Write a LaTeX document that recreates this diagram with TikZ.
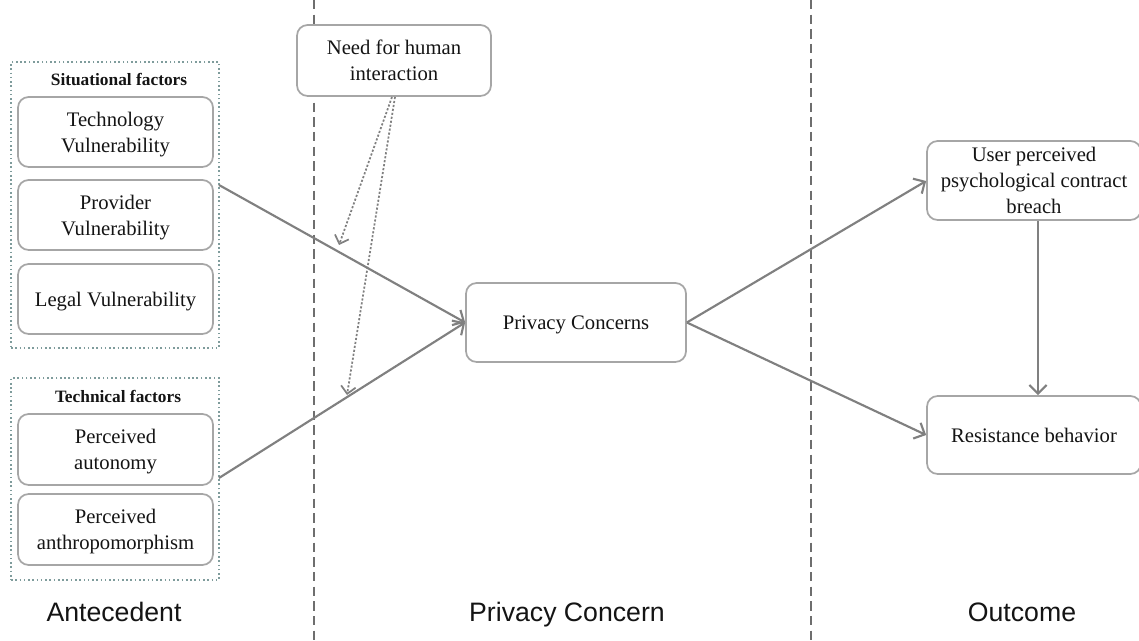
\documentclass[tikz,border=0pt]{standalone}
\usepackage{fontspec}
\setmainfont{Liberation Serif}
\newfontfamily\labelfont{Liberation Sans}
\usetikzlibrary{arrows.meta}
\definecolor{linegray}{HTML}{808080}
\definecolor{boxgray}{HTML}{A6A6A6}
\definecolor{dotgray}{HTML}{7F9C9C}
\definecolor{dashgray}{HTML}{6E6E6E}
\definecolor{txt}{HTML}{141414}
\tikzset{
  box/.style={draw=boxgray, line width=1.3pt, rounded corners=8pt, fill=white, align=center,
    text=txt, font=\fontsize{15.5}{19.5}\selectfont, inner sep=0pt, text depth=0pt},
  group/.style={draw=dotgray, line width=1.2pt, dotted, inner sep=0pt},
  grouptitle/.style={font=\fontsize{13}{15}\selectfont\bfseries, text=txt},
  link/.style={draw=linegray, line width=1.6pt, -{Straight Barb[length=6.5pt,width=13pt,line width=1.6pt]}},
  modlink/.style={draw=linegray, line width=1.3pt, dash pattern=on 1.6pt off 1.4pt, -{Straight Barb[length=5.5pt,width=11pt,line width=1.3pt]}},
  divider/.style={draw=dashgray, line width=1.1pt, dash pattern=on 7pt off 4pt},
  stage/.style={font=\labelfont\fontsize{20}{24}\selectfont, text=txt, anchor=base}
}
\begin{document}
\begin{tikzpicture}[x=0.75pt,y=-0.75pt]
\useasboundingbox (0,0) rectangle (1139,641);
\fill[white] (0,0) rectangle (1139,641);
% dividers
\draw[divider] (314,0) -- (314,641);
\draw[divider] (811,0) -- (811,641);
% groups
\node[group, minimum width=156pt, minimum height=214.5pt] (sit) at (115,205) {};
\node[group, minimum width=156pt, minimum height=151.5pt] (tec) at (115,479) {};
\node[grouptitle] (sitT) at (119,80) {Situational factors};
\node[grouptitle] (tecT) at (118,396) {Technical factors};
% boxes
\node[box, minimum width=146.25pt, minimum height=52.5pt] (tv) at (115.5,132) {Technology\\Vulnerability};
\node[box, minimum width=146.25pt, minimum height=52.5pt] (pv) at (115.5,215) {Provider\\Vulnerability};
\node[box, minimum width=146.25pt, minimum height=52.5pt] (lv) at (115.5,299) {Legal Vulnerability};
\node[box, minimum width=146.25pt, minimum height=53.25pt] (pa) at (115.5,449.5) {Perceived\\autonomy};
\node[box, minimum width=146.25pt, minimum height=53.25pt] (pan) at (115.5,529.5) {Perceived\\anthropomorphism};
\node[box, minimum width=145.5pt, minimum height=53.25pt] (need) at (394,60.5) {Need for human\\interaction};
\node[box, minimum width=165pt, minimum height=59.25pt] (pc) at (576,322.5) {Privacy Concerns};
\node[box, minimum width=160.5pt, minimum height=59.25pt] (user) at (1034,180.5) {User perceived\\psychological contract\\breach};
\node[box, minimum width=160.5pt, minimum height=58.5pt] (res) at (1034,435) {Resistance behavior};
% connector points
\coordinate (s1) at (219,185);
\coordinate (s2) at (219,478);
\coordinate (m1) at (339,245);
\coordinate (m2) at (347,395);
\coordinate (n1) at (392,97);
\coordinate (n2) at (395,97);
% links
\draw[link] (s1) -- (pc.west);
\draw[link] (s2) -- (pc.west);
\draw[link] (pc.east) -- (user.west |- 0,181);
\draw[link] (pc.east) -- (res.west);
\draw[link] (user.south -| 1038,0) -- (res.north -| 1038,0);
\draw[modlink] (n1) -- (m1);
\draw[modlink] (n2) -- (m2);
% stage labels
\node[stage] (a) at (114,621) {Antecedent};
\node[stage] (b) at (567,621) {Privacy Concern};
\node[stage] (c) at (1022,621) {Outcome};
\end{tikzpicture}
\end{document}
